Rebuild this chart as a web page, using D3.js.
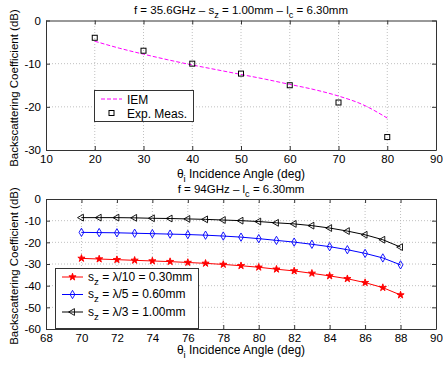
<!DOCTYPE html>
<html>
<head>
<meta charset="utf-8">
<script src="https://cdn.jsdelivr.net/npm/d3@7"></script>
<style>
  body { margin: 0; background: #fff; }
  svg text { font-family: "Liberation Sans", Arial, sans-serif; fill: #000; }
</style>
</head>
<body>
<div id="chart"></div>
<script>
// top panel: f = 35.6 GHz
const iemAngles = [20, 25, 30, 35, 40, 45, 50, 55, 60, 65, 70, 75, 80];
const iemValues = [-4.8, -6.4, -7.8, -9.1, -10.3, -11.4, -12.5, -13.6, -14.8, -16.0, -17.5, -19.5, -22.6];
const measAngles = [20, 30, 40, 50, 60, 70, 80];
const measValues = [-4, -7, -10, -12.3, -15, -19, -27];
const topXTicks = [10, 20, 30, 40, 50, 60, 70, 80, 90];
const topYTicks = [-30, -20, -10, 0];

// bottom panel: f = 94 GHz
const angles94 = [70, 71, 72, 73, 74, 75, 76, 77, 78, 79, 80, 81, 82, 83, 84, 85, 86, 87, 88];
const sz030 = [-27.4, -27.7, -28.0, -28.3, -28.6, -28.9, -29.3, -29.7, -30.2, -30.8, -31.5, -32.4, -33.2, -34.3, -35.5, -36.8, -38.6, -40.9, -44.3];
const sz060 = [-15.4, -15.5, -15.6, -15.8, -16.0, -16.2, -16.4, -16.7, -17.1, -17.6, -18.3, -19.1, -19.9, -20.9, -22.0, -23.4, -25.1, -27.2, -30.4];
const sz100 = [-8.6, -8.6, -8.6, -8.7, -8.9, -9.0, -9.2, -9.4, -9.7, -10.0, -10.4, -11.0, -11.5, -12.3, -13.4, -14.8, -16.5, -18.8, -22.2];
const botXTicks = [68, 70, 72, 74, 76, 78, 80, 82, 84, 86, 88, 90];
const botYTicks = [-60, -50, -40, -30, -20, -10, 0];

const W = 443, H = 365;
const svg = d3.select('#chart').append('svg').attr('width', W).attr('height', H);

function drawAxes(x, y, xTicks, yTicks) {
  const [x0, x1] = x.range();
  const [y0, y1] = y.range();
  const g = svg.append('g');
  g.append('rect').attr('x', x0).attr('y', y1).attr('width', x1 - x0).attr('height', y0 - y1)
    .attr('fill', '#fff');
  // dotted grid
  g.selectAll('.gx').data(xTicks.slice(1, -1)).join('line')
    .attr('x1', d => x(d)).attr('x2', d => x(d)).attr('y1', y0).attr('y2', y1)
    .attr('stroke', '#b0b0b0').attr('stroke-width', 0.8).attr('stroke-dasharray', '1,2');
  g.selectAll('.gy').data(yTicks.slice(1, -1)).join('line')
    .attr('y1', d => y(d)).attr('y2', d => y(d)).attr('x1', x0).attr('x2', x1)
    .attr('stroke', '#b0b0b0').attr('stroke-width', 0.8).attr('stroke-dasharray', '1,2');

  const fmt = d => String(d).replace('\u2212', '-');
  const ax = (gen, tr) => {
    const a = g.append('g').attr('transform', tr).call(gen);
    a.select('.domain').attr('stroke', '#333');
    a.selectAll('.tick line').attr('stroke', '#333');
    a.selectAll('text').attr('font-size', 11.5).attr('font-family', '"Liberation Sans", Arial, sans-serif');
    return a;
  };
  ax(d3.axisBottom(x).tickValues(xTicks).tickFormat(fmt).tickSizeInner(-4).tickSizeOuter(0).tickPadding(5),
     `translate(0,${y0})`);
  ax(d3.axisLeft(y).tickValues(yTicks).tickFormat(fmt).tickSizeInner(-4).tickSizeOuter(0).tickPadding(5),
     `translate(${x0},0)`);
  ax(d3.axisTop(x).tickValues(xTicks).tickFormat('').tickSizeInner(-4).tickSizeOuter(0),
     `translate(0,${y1})`);
  ax(d3.axisRight(y).tickValues(yTicks).tickFormat('').tickSizeInner(-4).tickSizeOuter(0),
     `translate(${x1},0)`);
  return g;
}

function subText(parent, x, y, parts, anchor, size) {
  size = size || 11;
  const t = parent.append('text').attr('x', x).attr('y', y).attr('font-size', size)
    .attr('text-anchor', anchor || 'start');
  parts.forEach(p => {
    if (p.sub) t.append('tspan').attr('dy', 4).attr('font-size', size * 0.8).text(p.sub);
    else t.append('tspan').attr('dy', p.up ? -4 : 0).text(p.t);
  });
  return t;
}

function yLabel(cy) {
  svg.append('text').attr('transform', `translate(18,${cy}) rotate(-90)`)
    .attr('text-anchor', 'middle').attr('font-size', 11.5)
    .text('Backscattering Coefficient (dB)');
}

// ---------- top panel ----------
const xT = d3.scaleLinear().domain([10, 90]).range([46, 436]);
const yT = d3.scaleLinear().domain([-30, 0]).range([150, 20.5]);
drawAxes(xT, yT, topXTicks, topYTicks);

const iem = iemAngles.map((a, i) => [a, iemValues[i]]);
svg.append('path').datum(iem)
  .attr('d', d3.line().x(d => xT(d[0])).y(d => yT(d[1])).curve(d3.curveMonotoneX))
  .attr('fill', 'none').attr('stroke', '#ff00ff').attr('stroke-width', 1)
  .attr('stroke-dasharray', '4,2');

svg.selectAll('.meas').data(measAngles.map((a, i) => [a, measValues[i]])).join('rect')
  .attr('x', d => xT(d[0]) - 2.5).attr('y', d => yT(d[1]) - 2.5)
  .attr('width', 5).attr('height', 5)
  .attr('fill', 'none').attr('stroke', '#000').attr('stroke-width', 1);

subText(svg, 241, 14, [{t: 'f = 35.6GHz \u2013 s'}, {sub: 'z'}, {t: ' = 1.00mm \u2013 l', up: true}, {sub: 'c'}, {t: ' = 6.30mm', up: true}], 'middle', 11.5);
subText(svg, 241, 178, [{t: '\u03b8'}, {sub: 'i'}, {t: ' Incidence Angle (deg)', up: true}], 'middle', 12);
yLabel(88);

// top legend
const lgT = svg.append('g');
lgT.append('rect').attr('x', 94.5).attr('y', 90.5).attr('width', 99).attr('height', 31)
  .attr('fill', '#fff').attr('stroke', '#333').attr('stroke-width', 1);
lgT.append('line').attr('x1', 101).attr('x2', 122).attr('y1', 99).attr('y2', 99)
  .attr('stroke', '#ff00ff').attr('stroke-dasharray', '4,2');
lgT.append('text').attr('x', 127).attr('y', 103.5).attr('font-size', 12).text('IEM');
lgT.append('rect').attr('x', 109).attr('y', 110.5).attr('width', 5).attr('height', 5)
  .attr('fill', 'none').attr('stroke', '#000');
lgT.append('text').attr('x', 127).attr('y', 117.5).attr('font-size', 12).text('Exp. Meas.');

// ---------- bottom panel ----------
const xB = d3.scaleLinear().domain([68, 90]).range([46, 436]);
const yB = d3.scaleLinear().domain([-60, 0]).range([329, 199]);
drawAxes(xB, yB, botXTicks, botYTicks);

const star = d3.symbol().type(d3.symbolStar).size(16);
const diamond = d3.symbol().type(d3.symbolDiamond).size(20);
const triLeft = d3.symbol().type(d3.symbolTriangle).size(20);

const series = [
  {vals: sz030, color: '#ff0000', sym: star, fill: '#ff0000', rot: 0, sub: ' = \u03bb/10 = 0.30mm'},
  {vals: sz060, color: '#0000ff', sym: diamond, fill: 'none', rot: 0, sub: ' = \u03bb/5 = 0.60mm'},
  {vals: sz100, color: '#000000', sym: triLeft, fill: 'none', rot: -90, sub: ' = \u03bb/3 = 1.00mm'}
];

const lineB = d3.line().x(d => xB(d[0])).y(d => yB(d[1]));
series.forEach(s => {
  const pts = angles94.map((a, i) => [a, s.vals[i]]);
  svg.append('path').datum(pts).attr('d', lineB)
    .attr('fill', 'none').attr('stroke', s.color).attr('stroke-width', 1);
  svg.append('g').selectAll('path').data(pts).join('path')
    .attr('d', s.sym)
    .attr('transform', d => `translate(${xB(d[0])},${yB(d[1])}) rotate(${s.rot})`)
    .attr('fill', s.fill).attr('stroke', s.color).attr('stroke-width', 0.9);
});

subText(svg, 241, 193, [{t: 'f = 94GHz \u2013 l'}, {sub: 'c'}, {t: ' = 6.30mm', up: true}], 'middle', 11.5);
subText(svg, 241, 354, [{t: '\u03b8'}, {sub: 'i'}, {t: ' Incidence Angle (deg)', up: true}], 'middle', 12);
yLabel(266);

// bottom legend
const lgB = svg.append('g');
lgB.append('rect').attr('x', 55.5).attr('y', 268.5).attr('width', 143).attr('height', 60)
  .attr('fill', '#fff').attr('stroke', '#333').attr('stroke-width', 1);
series.forEach((s, i) => {
  const ly = 277 + i * 17.5;
  lgB.append('line').attr('x1', 62).attr('x2', 83).attr('y1', ly).attr('y2', ly)
    .attr('stroke', s.color);
  lgB.append('path').attr('d', s.sym)
    .attr('transform', `translate(72.5,${ly}) rotate(${s.rot})`)
    .attr('fill', s.fill).attr('stroke', s.color).attr('stroke-width', 0.9);
  subText(lgB, 88, ly + 3.5, [{t: 's'}, {sub: 'z'}, {t: s.sub, up: true}], 'start', 12);
});
</script>
</body>
</html>
